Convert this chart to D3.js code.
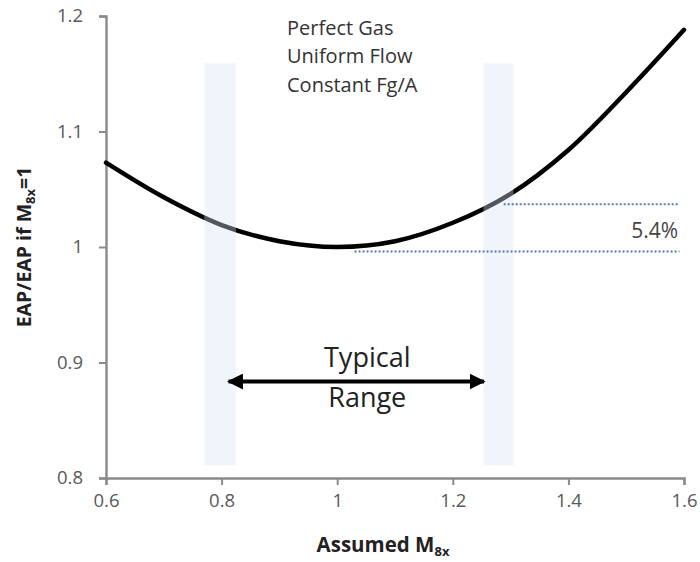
<!DOCTYPE html>
<html>
<head>
<meta charset="utf-8">
<script src="https://cdn.jsdelivr.net/npm/d3@7"></script>
<style>
  body { margin: 0; background: #fff; }
  text { font-family: "Open Sans", Lato, sans-serif; }
</style>
</head>
<body>
<div id="chart"></div>
<script>
// curve
const machValues = [0.6, 0.7, 0.8, 0.9, 1.0, 1.1, 1.2, 1.3, 1.4, 1.5, 1.6];
const eapRatio   = [1.073, 1.043, 1.019, 1.005, 1.000, 1.005, 1.021, 1.046, 1.084, 1.134, 1.188];

// shaded "typical range" bands [x0, x1]
const bands = [[0.77, 0.825], [1.253, 1.305]];
const bandTop = 1.159, bandBottom = 0.811;

// dotted reference lines [x0, x1, y]
const refLines = [[1.288, 1.592, 1.037], [1.03, 1.592, 0.996]];

const xTicks = [0.6, 0.8, 1, 1.2, 1.4, 1.6];
const yTicks = [0.8, 0.9, 1, 1.1, 1.2];
const notes = ["Perfect Gas", "Uniform Flow", "Constant Fg/A"];

const W = 700, H = 562;
const margin = {top: 16, right: 16, bottom: 84, left: 106};

const svg = d3.select("#chart").append("svg")
    .attr("width", W)
    .attr("height", H);

const x = d3.scaleLinear().domain([0.6, 1.6]).range([margin.left, W - margin.right]);
const y = d3.scaleLinear().domain([0.8, 1.2]).range([H - margin.bottom, margin.top]);

// axes
const axisColor = "#8a8a8a";
const xAxis = svg.append("g")
    .attr("transform", `translate(0,${y(0.8)})`)
    .call(d3.axisBottom(x).tickValues(xTicks).tickSize(7).tickPadding(9).tickFormat(d3.format("")));
const yAxis = svg.append("g")
    .attr("transform", `translate(${x(0.6)},0)`)
    .call(d3.axisLeft(y).tickValues(yTicks).tickSize(7).tickPadding(16).tickFormat(d3.format("")));

[xAxis, yAxis].forEach(a => {
    a.select(".domain").attr("stroke", axisColor).attr("stroke-width", 2.4);
    a.selectAll(".tick line").attr("stroke", axisColor).attr("stroke-width", 2);
    a.selectAll(".tick text").attr("fill", "#595959").style("font-size", "18.5px");
});

// curve
const pts = machValues.map((m, i) => [m, eapRatio[i]]);
const line = d3.line().x(d => x(d[0])).y(d => y(d[1])).curve(d3.curveCatmullRom);
svg.append("path")
    .datum(pts)
    .attr("d", line)
    .attr("fill", "none")
    .attr("stroke", "#000")
    .attr("stroke-width", 4.5)
    .attr("stroke-linecap", "round");

// bands (drawn over the curve so it shows grey inside them)
svg.selectAll(".band")
    .data(bands)
    .enter()
    .append("rect")
    .attr("class", "band")
    .attr("x", d => x(d[0]))
    .attr("width", d => x(d[1]) - x(d[0]))
    .attr("y", y(bandTop))
    .attr("height", y(bandBottom) - y(bandTop))
    .attr("fill", "rgb(212,230,245)")
    .attr("opacity", 0.38);

// dotted lines
svg.selectAll(".ref")
    .data(refLines)
    .enter()
    .append("line")
    .attr("x1", d => x(d[0]))
    .attr("x2", d => x(d[1]))
    .attr("y1", d => y(d[2]))
    .attr("y2", d => y(d[2]))
    .attr("stroke", "#5577ad")
    .attr("stroke-width", 2)
    .attr("stroke-dasharray", "2,2");

svg.append("text")
    .attr("x", x(1.59))
    .attr("y", y(1.008))
    .attr("text-anchor", "end")
    .attr("fill", "#444")
    .style("font-size", "21px")
    .text("5.4%");

// notes
svg.selectAll(".note")
    .data(notes)
    .enter()
    .append("text")
    .attr("x", 287)
    .attr("y", (d, i) => 34.5 + i * 28.8)
    .attr("fill", "#333")
    .style("font-size", "20px")
    .text(d => d);

// typical range arrow
const defs = svg.append("defs");
defs.append("marker")
    .attr("id", "head")
    .attr("viewBox", "0 0 10 10")
    .attr("refX", 9).attr("refY", 5)
    .attr("markerWidth", 4).attr("markerHeight", 4)
    .attr("orient", "auto-start-reverse")
    .append("path")
    .attr("d", "M0,0 L10,5 L0,10 z")
    .attr("fill", "#000");

const arrowY = 0.8835;
svg.append("line")
    .attr("x1", x(0.812)).attr("x2", x(1.254))
    .attr("y1", y(arrowY)).attr("y2", y(arrowY))
    .attr("stroke", "#000")
    .attr("stroke-width", 4)
    .attr("marker-start", "url(#head)")
    .attr("marker-end", "url(#head)");

svg.append("text")
    .attr("x", x(1.052)).attr("y", 367)
    .attr("text-anchor", "middle")
    .attr("fill", "#222")
    .style("font-size", "27px")
    .text("Typical");
svg.append("text")
    .attr("x", x(1.052)).attr("y", 407)
    .attr("text-anchor", "middle")
    .attr("fill", "#222")
    .style("font-size", "27px")
    .text("Range");

// axis titles
const xt = svg.append("text")
    .attr("x", (x(0.6) + x(1.6)) / 2 - 12)
    .attr("y", 552)
    .attr("text-anchor", "middle")
    .attr("fill", "#222")
    .style("font-size", "20.5px")
    .style("font-weight", "bold");
xt.append("tspan").text("Assumed M");
xt.append("tspan").attr("dy", 4).style("font-size", "13px").text("8x");

const yt = svg.append("text")
    .attr("transform", `translate(31,${(y(0.8) + y(1.2)) / 2}) rotate(-90)`)
    .attr("text-anchor", "middle")
    .attr("fill", "#222")
    .style("font-size", "19.5px")
    .style("font-weight", "bold");
yt.append("tspan").text("EAP/EAP if M");
yt.append("tspan").attr("dy", 4).style("font-size", "13px").text("8x");
yt.append("tspan").attr("dy", -4).text("=1");
</script>
</body>
</html>
